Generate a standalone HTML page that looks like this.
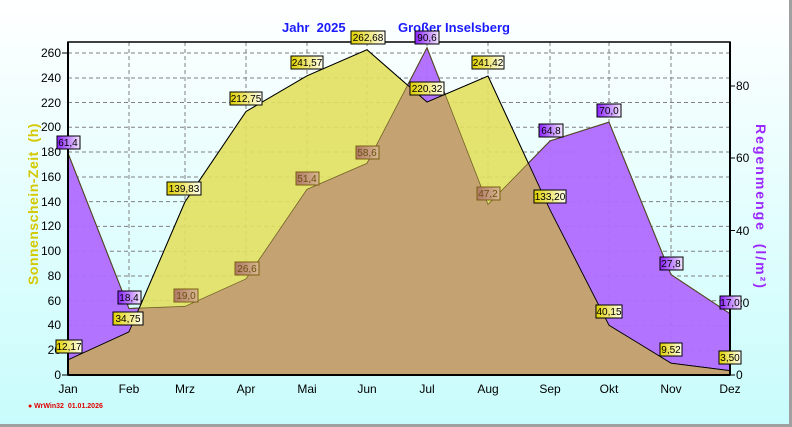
<!DOCTYPE html>
<html><head><meta charset="utf-8"><style>
html,body{margin:0;padding:0;width:792px;height:427px;overflow:hidden;}
body{font-family:"Liberation Sans",sans-serif;}
</style></head><body>
<svg width="792" height="427" viewBox="0 0 792 427" xmlns="http://www.w3.org/2000/svg" font-family="Liberation Sans, sans-serif">
<defs>
<linearGradient id="bg" x1="0" y1="0" x2="0" y2="1"><stop offset="0" stop-color="#ffffff"/><stop offset="1" stop-color="#c8fcfc"/></linearGradient>
<linearGradient id="ly" x1="0" y1="0" x2="1" y2="0"><stop offset="0" stop-color="#e0d000"/><stop offset="1" stop-color="#fffff0"/></linearGradient>
<linearGradient id="lp" x1="0" y1="0" x2="1" y2="0"><stop offset="0" stop-color="#8a20ff"/><stop offset="1" stop-color="#f4e8ff"/></linearGradient>
<linearGradient id="lb" x1="0" y1="0" x2="1" y2="0"><stop offset="0" stop-color="#b07868"/><stop offset="1" stop-color="#d8b890"/></linearGradient>
<clipPath id="rc"><polygon points="68,375 68,153.2 129,308.5 185,306.4 246,278.9 307,189.3 367,163.3 427,47.7 488,204.5 550,140.9 609,122.1 671,274.6 730,313.6 730,375"/></clipPath>
</defs>
<rect width="792" height="427" fill="url(#bg)"/>
<rect x="789" y="0" width="3" height="427" fill="#a0a0a0"/>
<rect x="0" y="424" width="792" height="3" fill="#a0a0a0"/>
<g stroke="#808080" stroke-dasharray="4,3" stroke-width="1">
<line x1="68" x2="730" y1="53" y2="53"/><line x1="68" x2="730" y1="78" y2="78"/><line x1="68" x2="730" y1="102.5" y2="102.5"/><line x1="68" x2="730" y1="127.3" y2="127.3"/><line x1="68" x2="730" y1="152" y2="152"/><line x1="68" x2="730" y1="177" y2="177"/><line x1="68" x2="730" y1="201.6" y2="201.6"/><line x1="68" x2="730" y1="226.4" y2="226.4"/><line x1="68" x2="730" y1="251.2" y2="251.2"/><line x1="68" x2="730" y1="276" y2="276"/><line x1="68" x2="730" y1="300.7" y2="300.7"/><line x1="68" x2="730" y1="325.5" y2="325.5"/><line x1="68" x2="730" y1="350.2" y2="350.2"/>
<line x1="129" x2="129" y1="42" y2="375"/><line x1="185" x2="185" y1="42" y2="375"/><line x1="246" x2="246" y1="42" y2="375"/><line x1="307" x2="307" y1="42" y2="375"/><line x1="367" x2="367" y1="42" y2="375"/><line x1="427" x2="427" y1="42" y2="375"/><line x1="488" x2="488" y1="42" y2="375"/><line x1="550" x2="550" y1="42" y2="375"/><line x1="609" x2="609" y1="42" y2="375"/><line x1="671" x2="671" y1="42" y2="375"/>
</g>
<polygon points="68,375 68,153.2 129,308.5 185,306.4 246,278.9 307,189.3 367,163.3 427,47.7 488,204.5 550,140.9 609,122.1 671,274.6 730,313.6 730,375" fill="#b06cff" fill-opacity="0.95" stroke="#000" stroke-width="1"/>
<polygon points="68,375 68,359.9 129,332 185,201.8 246,111.5 307,75.8 367,49.7 427,102.1 488,76 550,210 609,325.3 671,363.2 730,370.7 730,375" fill="#e2e060" fill-opacity="0.9" stroke="#000" stroke-width="1"/>
<polygon clip-path="url(#rc)" points="68,375 68,359.9 129,332 185,201.8 246,111.5 307,75.8 367,49.7 427,102.1 488,76 550,210 609,325.3 671,363.2 730,370.7 730,375" fill="#c4a272"/>
<polyline points="68,153.2 129,308.5 185,306.4 246,278.9 307,189.3 367,163.3 427,47.7 488,204.5 550,140.9 609,122.1 671,274.6 730,313.6" fill="none" stroke="#6b5a20" stroke-width="0.7"/>
<polyline points="68,359.9 129,332 185,201.8 246,111.5 307,75.8 367,49.7 427,102.1 488,76 550,210 609,325.3 671,363.2 730,370.7" fill="none" stroke="#000" stroke-width="0.8"/>
<rect x="68" y="42" width="662" height="333" fill="none" stroke="#000" stroke-width="1.5"/>
<line x1="68" y1="42" x2="68" y2="375" stroke="#000" stroke-width="2"/>
<line x1="730" y1="42" x2="730" y2="375" stroke="#000" stroke-width="2"/>
<line x1="68" y1="375" x2="730" y2="375" stroke="#000" stroke-width="2"/>
<g font-size="12" fill="#000" text-anchor="end">
<text x="61" y="57">260</text><text x="61" y="82">240</text><text x="61" y="107">220</text><text x="61" y="131">200</text><text x="61" y="156">180</text><text x="61" y="181">160</text><text x="61" y="206">140</text><text x="61" y="230">120</text><text x="61" y="255">100</text><text x="61" y="280">80</text><text x="61" y="305">60</text><text x="61" y="329">40</text><text x="61" y="354">20</text><text x="61" y="379">0</text>
</g>
<g font-size="12" fill="#000" text-anchor="start">
<text x="736" y="90">80</text><text x="736" y="162">60</text><text x="736" y="235">40</text><text x="736" y="307">20</text><text x="736" y="379">0</text>
</g>
<g stroke="#000"><line x1="730" x2="735" y1="86" y2="86"/><line x1="730" x2="735" y1="158" y2="158"/><line x1="730" x2="735" y1="230.5" y2="230.5"/><line x1="730" x2="735" y1="303" y2="303"/><line x1="730" x2="735" y1="375" y2="375"/>
<line x1="62" x2="68" y1="53" y2="53"/><line x1="62" x2="68" y1="375" y2="375"/></g>
<g font-size="12" fill="#000" text-anchor="middle">
<text x="68" y="393">Jan</text><text x="129" y="393">Feb</text><text x="185" y="393">Mrz</text><text x="246" y="393">Apr</text><text x="307" y="393">Mai</text><text x="367" y="393">Jun</text><text x="427" y="393">Jul</text><text x="488" y="393">Aug</text><text x="550" y="393">Sep</text><text x="609" y="393">Okt</text><text x="671" y="393">Nov</text><text x="730" y="393">Dez</text>
</g>
<text x="282" y="32" font-size="13" font-weight="bold" fill="#1a1aff">Jahr&#160;&#160;2025</text>
<text x="398" y="32" font-size="13" font-weight="bold" fill="#1a1aff">Großer Inselsberg</text>
<text transform="translate(38,204) rotate(-90)" text-anchor="middle" font-size="14" font-weight="bold" fill="#d4c800" letter-spacing="0.5">Sonnenschein-Zeit&#160;&#160;(h)</text>
<text transform="translate(756,207) rotate(90)" text-anchor="middle" font-size="14" font-weight="bold" fill="#9a28ff" letter-spacing="2">Regenmenge&#160;&#160;(l/m²)</text>
<text x="28" y="408" font-size="7" font-weight="bold" fill="#e00000">● WrWin32&#160;&#160;01.01.2026</text>
<g font-size="10" text-anchor="middle" stroke-width="1">
<g stroke="#000" fill="url(#ly)">
<rect x="56" y="340" width="26" height="13"/><rect x="113" y="312" width="30" height="13"/><rect x="167" y="182" width="34" height="13"/><rect x="230" y="92" width="32" height="13"/><rect x="291" y="56" width="32" height="13"/><rect x="351" y="31" width="34" height="13"/><rect x="410" y="82" width="34" height="13"/><rect x="472" y="56" width="32" height="13"/><rect x="534" y="190" width="32" height="13"/><rect x="596" y="305" width="26" height="13"/><rect x="660" y="343" width="22" height="13"/><rect x="719" y="351" width="22" height="13"/>
</g>
<g stroke="#000" fill="url(#lp)">
<rect x="57" y="136" width="23" height="13"/><rect x="118" y="291" width="23" height="13"/><rect x="415" y="31" width="24" height="13"/><rect x="539" y="124" width="24" height="13"/><rect x="597" y="104" width="24" height="13"/><rect x="660" y="257" width="23" height="13"/><rect x="720" y="296" width="21" height="13"/>
</g>
<g stroke="#7a6010" fill="url(#lb)">
<rect x="174" y="289" width="24" height="13"/><rect x="235" y="262" width="24" height="13"/><rect x="296" y="172" width="23" height="13"/><rect x="356" y="146" width="23" height="13"/><rect x="477" y="187" width="23" height="13"/>
</g>
<g fill="#000">
<text x="69" y="350">12,17</text><text x="128" y="322">34,75</text><text x="184" y="192">139,83</text><text x="246" y="102">212,75</text><text x="307" y="66">241,57</text><text x="368" y="41">262,68</text><text x="427" y="92">220,32</text><text x="488" y="66">241,42</text><text x="550" y="200">133,20</text><text x="609" y="315">40,15</text><text x="671" y="353">9,52</text><text x="730" y="361">3,50</text>
<text x="68" y="146">61,4</text><text x="129" y="301">18,4</text><text x="427" y="41">90,6</text><text x="551" y="134">64,8</text><text x="609" y="114">70,0</text><text x="671" y="267">27,8</text><text x="730" y="306">17,0</text>
</g>
<g fill="#6a5010">
<text x="186" y="299">19,0</text><text x="247" y="272">26,6</text><text x="307" y="182">51,4</text><text x="367" y="156">58,6</text><text x="488" y="197">47,2</text>
</g>
</g>
</svg>
</body></html>
